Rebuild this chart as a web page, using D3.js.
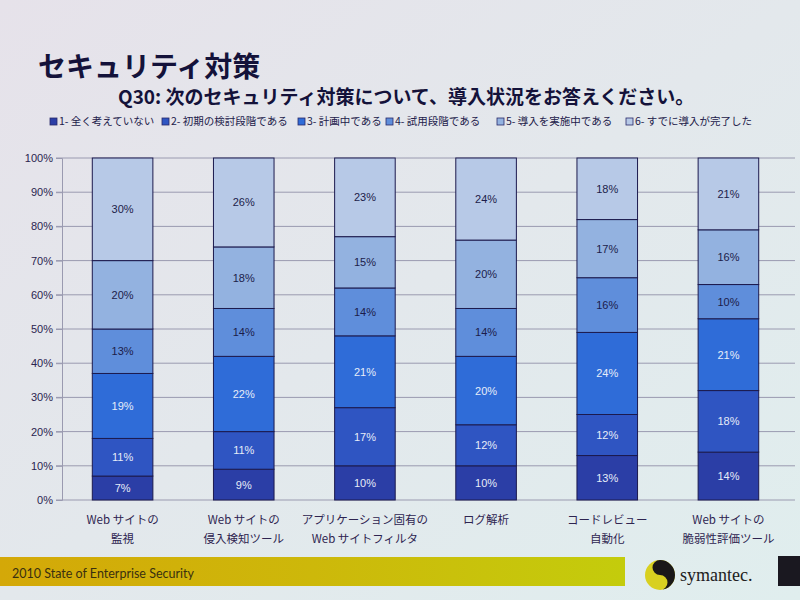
<!DOCTYPE html>
<html>
<head>
<meta charset="utf-8">
<script src="https://cdn.jsdelivr.net/npm/d3@7"></script>
<style>
  body { margin: 0; background: #e5e8ec; }
  svg { display: block; font-family: "Noto Sans CJK JP", "Noto Sans", sans-serif; }
</style>
</head>
<body>
<div class="chart"></div>
<script>
(function () {
    "use strict";

    var categories = [
        ['Web サイトの', '監視'],
        ['Web サイトの', '侵入検知ツール'],
        ['アプリケーション固有の', 'Web サイトフィルタ'],
        ['ログ解析'],
        ['コードレビュー', '自動化'],
        ['Web サイトの', '脆弱性評価ツール']
    ];
    var seriesNames = [
        '1- 全く考えていない',
        '2- 初期の検討段階である',
        '3- 計画中である',
        '4- 試用段階である',
        '5- 導入を実施中である',
        '6- すでに導入が完了した'
    ];
    // one array per series, one value per category (percent)
    var s1 = [7, 9, 10, 10, 13, 14];
    var s2 = [11, 11, 17, 12, 12, 18];
    var s3 = [19, 22, 21, 20, 24, 21];
    var s4 = [13, 14, 14, 14, 16, 10];
    var s5 = [20, 18, 15, 20, 17, 16];
    var s6 = [30, 26, 23, 24, 18, 21];
    var yTicks = [0, 10, 20, 30, 40, 50, 60, 70, 80, 90, 100];

    var colors = ['#2b3ea6', '#2f55c2', '#2f6cd8', '#5f8edb', '#93b2e0', '#b7c9e7'];
    var labelColors = ['#e6ecf8', '#e6ecf8', '#e6ecf8', '#1c1c4a', '#1c1c4a', '#1c1c4a'];

    var W = 800, H = 600;
    var margin = { top: 158, right: 5, bottom: 100, left: 62 };

    var svg = d3.select('.chart').append('svg')
        .attr('width', W)
        .attr('height', H);

    var defs = svg.append('defs');
    var bg = defs.append('linearGradient').attr('id', 'bg')
        .attr('x1', 0).attr('y1', 0).attr('x2', 1).attr('y2', 1);
    bg.append('stop').attr('offset', 0).attr('stop-color', '#e6e2ea');
    bg.append('stop').attr('offset', 1).attr('stop-color', '#e0eeee');
    var foot = defs.append('linearGradient').attr('id', 'foot')
        .attr('x1', 0).attr('y1', 0).attr('x2', 1).attr('y2', 0);
    foot.append('stop').attr('offset', 0).attr('stop-color', '#d4a808');
    foot.append('stop').attr('offset', 0.5).attr('stop-color', '#cdb80a');
    foot.append('stop').attr('offset', 1).attr('stop-color', '#c4cc0c');

    svg.append('rect').attr('width', W).attr('height', H).attr('fill', 'url(#bg)');

    // titles
    svg.append('text')
        .attr('x', 38).attr('y', 77)
        .attr('font-size', 28).attr('font-weight', 'bold')
        .attr('fill', '#14123a')
        .text('セキュリティ対策');
    svg.append('text')
        .attr('x', 118).attr('y', 104)
        .attr('font-size', 19).attr('font-weight', 'bold')
        .attr('fill', '#14123a')
        .text('Q30: 次のセキュリティ対策について、導入状況をお答えください。');

    // legend
    var legendX = [50, 162, 298, 386, 497, 626];
    var legend = svg.append('g').attr('font-size', 10.5).attr('fill', '#22204a');
    seriesNames.forEach(function (name, i) {
        var g = legend.append('g').attr('transform', 'translate(' + legendX[i] + ',125)');
        g.append('rect').attr('x', 0).attr('y', -7).attr('width', 7).attr('height', 7)
            .attr('fill', colors[i]).attr('stroke', '#2a2a6a').attr('stroke-width', 0.8);
        g.append('text').attr('x', 9).attr('y', 0).text(name);
    });

    var width = W - margin.left - margin.right;
    var height = H - margin.top - margin.bottom;

    var x = d3.scaleBand()
        .domain(d3.range(categories.length))
        .range([0, width - 6])
        .paddingInner(0.5)
        .paddingOuter(0.25);
    var y = d3.scaleLinear().domain([0, 100]).range([height, 0]);

    var plot = svg.append('g')
        .attr('transform', 'translate(' + margin.left + ',' + margin.top + ')');

    // gridlines
    plot.append('g')
        .selectAll('line')
        .data(yTicks)
        .enter()
        .append('line')
        .attr('x1', -6).attr('x2', width)
        .attr('y1', function (d) { return y(d); })
        .attr('y2', function (d) { return y(d); })
        .attr('stroke', '#9a9ab0').attr('stroke-width', 1);

    var yAxis = plot.append('g')
        .call(d3.axisLeft(y).tickValues(yTicks).tickSize(6)
            .tickFormat(function (d) { return d + '%'; }));
    yAxis.select('.domain').attr('stroke', '#9a9ab0');
    yAxis.selectAll('.tick line').attr('stroke', '#9a9ab0');
    yAxis.selectAll('text')
        .attr('font-size', 11)
        .attr('font-family', 'Liberation Sans, Arial, sans-serif')
        .attr('fill', '#2a2450');

    var rows = categories.map(function (c, i) {
        return { s1: s1[i], s2: s2[i], s3: s3[i], s4: s4[i], s5: s5[i], s6: s6[i] };
    });
    var keys = ['s1', 's2', 's3', 's4', 's5', 's6'];
    var stacked = d3.stack().keys(keys)(rows);

    var layers = plot.selectAll('.layer')
        .data(stacked)
        .enter()
        .append('g')
        .attr('class', 'layer');

    layers.selectAll('rect')
        .data(function (d) { return d; })
        .enter()
        .append('rect')
        .attr('x', function (d, i) { return x(i); })
        .attr('width', x.bandwidth())
        .attr('y', function (d) { return y(d[1]); })
        .attr('height', function (d) { return y(d[0]) - y(d[1]); })
        .attr('fill', function () { return colors[d3.select(this.parentNode).datum().index]; })
        .attr('stroke', '#1c1a4e')
        .attr('stroke-width', 1);

    layers.selectAll('text')
        .data(function (d) { return d; })
        .enter()
        .append('text')
        .attr('x', function (d, i) { return x(i) + x.bandwidth() / 2; })
        .attr('y', function (d) { return (y(d[0]) + y(d[1])) / 2 + 4; })
        .attr('text-anchor', 'middle')
        .attr('font-size', 11)
        .attr('font-family', 'Liberation Sans, Arial, sans-serif')
        .attr('fill', function () { return labelColors[d3.select(this.parentNode).datum().index]; })
        .text(function (d) { return (d[1] - d[0]) + '%'; });

    // category labels
    var cat = plot.append('g')
        .attr('font-size', 11.5)
        .attr('fill', '#2e2450')
        .attr('text-anchor', 'middle');
    categories.forEach(function (lines, i) {
        lines.forEach(function (t, j) {
            cat.append('text')
                .attr('x', x(i) + x.bandwidth() / 2)
                .attr('y', height + 24 + j * 19)
                .text(t);
        });
    });

    // footer
    svg.append('rect')
        .attr('x', 0).attr('y', 557).attr('width', 625).attr('height', 29)
        .attr('fill', 'url(#foot)');
    svg.append('text')
        .attr('x', 12).attr('y', 578)
        .attr('font-size', 12.5)
        .attr('font-family', 'Lato, sans-serif')
        .attr('fill', '#3a3010')
        .text('2010 State of Enterprise Security');

    var logo = svg.append('g').attr('transform', 'translate(660,575)');
    logo.append('circle').attr('r', 15).attr('fill', '#d8d020');
    logo.append('path')
        .attr('d', 'M0,-15 A15,15 0 0,1 0,15 A7.5,7.5 0 0,0 0,0 A7.5,7.5 0 0,1 0,-15 Z')
        .attr('fill', '#1a1818');
    svg.append('text')
        .attr('x', 680).attr('y', 581)
        .attr('font-size', 18)
        .attr('font-family', 'Liberation Serif, serif')
        .attr('fill', '#202020')
        .text('symantec.');
    svg.append('rect')
        .attr('x', 778).attr('y', 556).attr('width', 22).attr('height', 30)
        .attr('fill', '#1a1820');
})();
</script>
</body>
</html>
